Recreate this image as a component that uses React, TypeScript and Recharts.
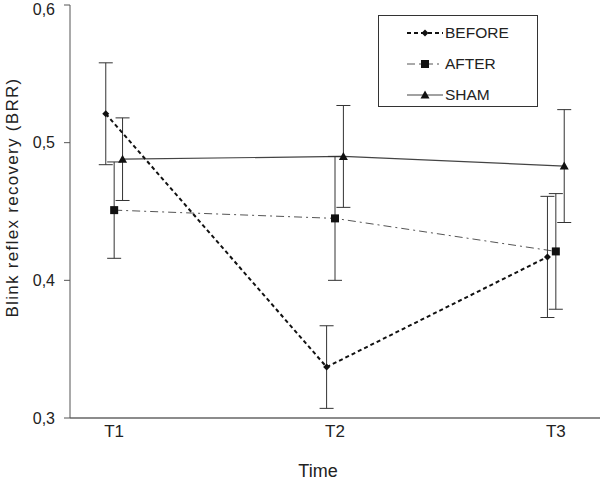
import React from 'react';
import { LineChart, Line, XAxis, YAxis, ErrorBar } from 'recharts';

const categories = ['T1', 'T2', 'T3'];
const seriesNames = ['BEFORE', 'AFTER', 'SHAM'];
const beforeMean = [0.521, 0.337, 0.417];
const beforeErr = [0.037, 0.03, 0.044];
const afterMean = [0.451, 0.445, 0.421];
const afterErr = [0.035, 0.045, 0.042];
const shamMean = [0.488, 0.49, 0.483];
const shamErr = [0.03, 0.037, 0.041];
const yTicks = [0.3, 0.4, 0.5, 0.6];

// horizontal dodge of each series around its category (style only)
const dodge = [-0.038, 0, 0.038];

const build = (mean: number[], err: number[], k: number) =>
  mean.map((v, i) => ({ x: i + 1 + dodge[k], y: v, e: err[i] }));

const beforeData = build(beforeMean, beforeErr, 0);
const afterData = build(afterMean, afterErr, 1);
const shamData = build(shamMean, shamErr, 2);

const FONT = '"Liberation Sans", Arial, sans-serif';

const Diamond = (p: any) => {
  const { cx, cy } = p;
  if (cx == null || cy == null) return null;
  const r = 3.5;
  return <polygon points={`${cx},${cy - r} ${cx + r},${cy} ${cx},${cy + r} ${cx - r},${cy}`} fill="#111" />;
};
const Square = (p: any) => {
  const { cx, cy } = p;
  if (cx == null || cy == null) return null;
  return <rect x={cx - 4} y={cy - 4} width={8} height={8} fill="#111" />;
};
const Triangle = (p: any) => {
  const { cx, cy } = p;
  if (cx == null || cy == null) return null;
  return <polygon points={`${cx},${cy - 4.5} ${cx + 4.5},${cy + 3.5} ${cx - 4.5},${cy + 3.5}`} fill="#111" />;
};

const legendStyles = [
  { stroke: '#111', width: 2, dash: '4 3', marker: 'diamond' },
  { stroke: '#555', width: 1, dash: '8 4 2 4', marker: 'square' },
  { stroke: '#444', width: 1.2, dash: undefined, marker: 'triangle' },
];

const LegendBox = () => (
  <div
    style={{
      position: 'absolute',
      left: 378,
      top: 15,
      width: 160,
      height: 92,
      border: '1px solid #333',
      background: '#fff',
      fontFamily: FONT,
      fontSize: 15.5,
      color: '#222',
      boxSizing: 'border-box',
      paddingTop: 1,
    }}
  >
    {seriesNames.map((n, i) => {
      const s = legendStyles[i];
      return (
        <div key={n} style={{ display: 'flex', alignItems: 'center', height: 31 }}>
          <svg width={36} height={12} style={{ marginLeft: 28, marginRight: 2 }}>
            <line x1={0} y1={6} x2={36} y2={6} stroke={s.stroke} strokeWidth={s.width} strokeDasharray={s.dash} />
            {s.marker === 'diamond' && <Diamond cx={18} cy={6} />}
            {s.marker === 'square' && <Square cx={18} cy={6} />}
            {s.marker === 'triangle' && <Triangle cx={18} cy={6} />}
          </svg>
          <span>{n}</span>
        </div>
      );
    })}
  </div>
);

export default function App() {
  return (
    <div style={{ position: 'absolute', left: 0, top: 0, width: 600, height: 481, background: '#fff' }}>
      <LineChart width={600} height={481} margin={{ top: 5, right: 0, left: 0, bottom: 0 }}>
        <XAxis
          type="number"
          dataKey="x"
          domain={[0.8, 3.2]}
          ticks={[1, 2, 3]}
          tickFormatter={(v: number) => categories[Math.round(v) - 1]}
          tickLine={false}
          tickSize={5}
          tickMargin={2}
          height={63}
          axisLine={{ stroke: '#666', strokeWidth: 1.5 }}
          tick={{ fill: '#222', fontSize: 17, fontFamily: FONT }}
          label={{ value: 'Time', position: 'insideBottom', offset: 0, dx: -17, dy: -4, fill: '#222', fontSize: 18, fontFamily: FONT }}
        />
        <YAxis
          type="number"
          domain={[0.3, 0.6]}
          ticks={yTicks}
          width={70}
          tickSize={6}
          tickMargin={9}
          axisLine={{ stroke: '#555' }}
          tickLine={{ stroke: '#555' }}
          tick={{ fill: '#222', fontSize: 16, fontFamily: FONT }}
          tickFormatter={(v: number) => v.toFixed(1).replace('.', ',')}
          label={{ value: 'Blink reflex recovery (BRR)', angle: -90, position: 'insideLeft', offset: 0, dx: 12, dy: -14, fill: '#222', fontSize: 17, fontFamily: FONT, style: { textAnchor: 'middle', letterSpacing: 1.3 } }}
        />
        <Line
          data={shamData}
          dataKey="y"
          name="SHAM"
          stroke="#444"
          strokeWidth={1.2}
          dot={<Triangle />}
          activeDot={false}
          isAnimationActive={false}
        >
          <ErrorBar dataKey="e" width={7} stroke="#333" strokeWidth={1} direction="y" />
        </Line>
        <Line
          data={afterData}
          dataKey="y"
          name="AFTER"
          stroke="#555"
          strokeWidth={1}
          strokeDasharray="8 4 2 4"
          dot={<Square />}
          activeDot={false}
          isAnimationActive={false}
        >
          <ErrorBar dataKey="e" width={7} stroke="#333" strokeWidth={1} direction="y" />
        </Line>
        <Line
          data={beforeData}
          dataKey="y"
          name="BEFORE"
          stroke="#111"
          strokeWidth={2}
          strokeDasharray="4 3"
          dot={<Diamond />}
          activeDot={false}
          isAnimationActive={false}
        >
          <ErrorBar dataKey="e" width={7} stroke="#333" strokeWidth={1} direction="y" />
        </Line>
      </LineChart>
      <LegendBox />
    </div>
  );
}
